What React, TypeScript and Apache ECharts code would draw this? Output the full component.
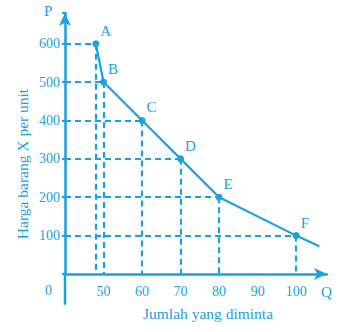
import React, { useEffect, useRef } from "react";
import * as echarts from "echarts";

const quantities = [48, 50, 60, 70, 80, 100];
const prices = [600, 500, 400, 300, 200, 100];
const pointNames = ["A", "B", "C", "D", "E", "F"];
const curveEnd = [106, 72];
const xTickLabels = [50, 60, 70, 80, 90, 100];
const yTickLabels = [100, 200, 300, 400, 500, 600];

const COLOR = "#1ba1de";
const FONT = "'Liberation Serif', 'DejaVu Serif', serif";

export default function App() {
  const ref = useRef<HTMLDivElement>(null);
  useEffect(() => {
    if (!ref.current) return;
    const chart = echarts.init(ref.current, null, { renderer: "svg" });
    const xMin = 40;
    const markData: any[] = [];
    quantities.forEach((q, i) => {
      markData.push([{ coord: [xMin, prices[i]] }, { coord: [q, prices[i]] }]);
      markData.push([{ coord: [q, prices[i]] }, { coord: [q, 0] }]);
    });
    const mainData: any[] = quantities.map((q, i) => ({
      value: [q, prices[i]],
      name: pointNames[i],
    }));
    mainData.push({ value: curveEnd, symbol: "none", label: { show: false } });

    chart.setOption({
      animation: false,
      grid: { left: 65, right: 23, top: 13, bottom: 58 },
      xAxis: {
        type: "value",
        min: xMin,
        max: 108,
        interval: 10,
        axisLine: {
          lineStyle: { color: COLOR, width: 2.5 },
          symbol: ["none", "arrow"],
          symbolSize: [9, 13],
        },
        axisTick: { show: false },
        splitLine: { show: false },
        axisLabel: {
          color: COLOR,
          fontFamily: FONT,
          fontSize: 14,
          margin: 10,
          formatter: (v: number) => (xTickLabels.includes(v) ? String(v) : ""),
        },
      },
      yAxis: {
        type: "value",
        min: 0,
        max: 680,
        interval: 100,
        axisLine: {
          show: true,
          lineStyle: { color: COLOR, width: 2.5 },
          symbol: ["none", "arrow"],
          symbolSize: [9, 13],
        },
        axisTick: { show: true, length: 3, lineStyle: { color: COLOR, width: 2 } },
        splitLine: { show: false },
        axisLabel: {
          color: COLOR,
          fontFamily: FONT,
          fontSize: 14,
          margin: 5,
          formatter: (v: number) => (yTickLabels.includes(v) ? String(v) : ""),
        },
      },
      series: [
        {
          type: "line",
          data: mainData,
          symbol: "circle",
          symbolSize: 7,
          itemStyle: { color: COLOR },
          lineStyle: { color: COLOR, width: 2.2 },
          label: {
            show: true,
            formatter: (p: any) => p.name,
            position: [8, -17],
            color: COLOR,
            fontFamily: FONT,
            fontSize: 15,
          },
          markLine: {
            silent: true,
            symbol: ["none", "none"],
            label: { show: false },
            lineStyle: { color: COLOR, width: 2.2, type: [6, 4] },
            data: markData,
          },
          z: 3,
        },
        {
          type: "line",
          clip: false,
          silent: true,
          symbol: "none",
          data: [
            [33.5, 0],
            [40, 0],
          ],
          lineStyle: { color: COLOR, width: 2.5 },
        },
        {
          type: "line",
          clip: false,
          silent: true,
          symbol: "none",
          data: [
            [40, 0],
            [40, -80],
          ],
          lineStyle: { color: COLOR, width: 2.5 },
        },
      ],
      graphic: [
        { type: "text", left: 45, top: 283, style: { text: "0", fill: COLOR, font: `14px ${FONT}` } },
        { type: "text", left: 321, top: 284, style: { text: "Q", fill: COLOR, font: `15px ${FONT}` } },
        { type: "text", left: 44, top: 3, style: { text: "P", fill: COLOR, font: `15px ${FONT}` } },
        {
          type: "text",
          x: 208,
          y: 313,
          style: {
            text: "Jumlah yang diminta",
            fill: COLOR,
            font: `15.5px ${FONT}`,
            align: "center",
            verticalAlign: "middle",
          },
        },
        {
          type: "text",
          x: 22,
          y: 164,
          rotation: Math.PI / 2,
          style: {
            text: "Harga barang X per unit",
            fill: COLOR,
            font: `15.5px ${FONT}`,
            align: "center",
            verticalAlign: "middle",
          },
        },
      ],
    });
    return () => chart.dispose();
  }, []);
  return (
    <div
      ref={ref}
      style={{ position: "fixed", left: 0, top: 0, width: 350, height: 332, background: "#fff" }}
    />
  );
}
